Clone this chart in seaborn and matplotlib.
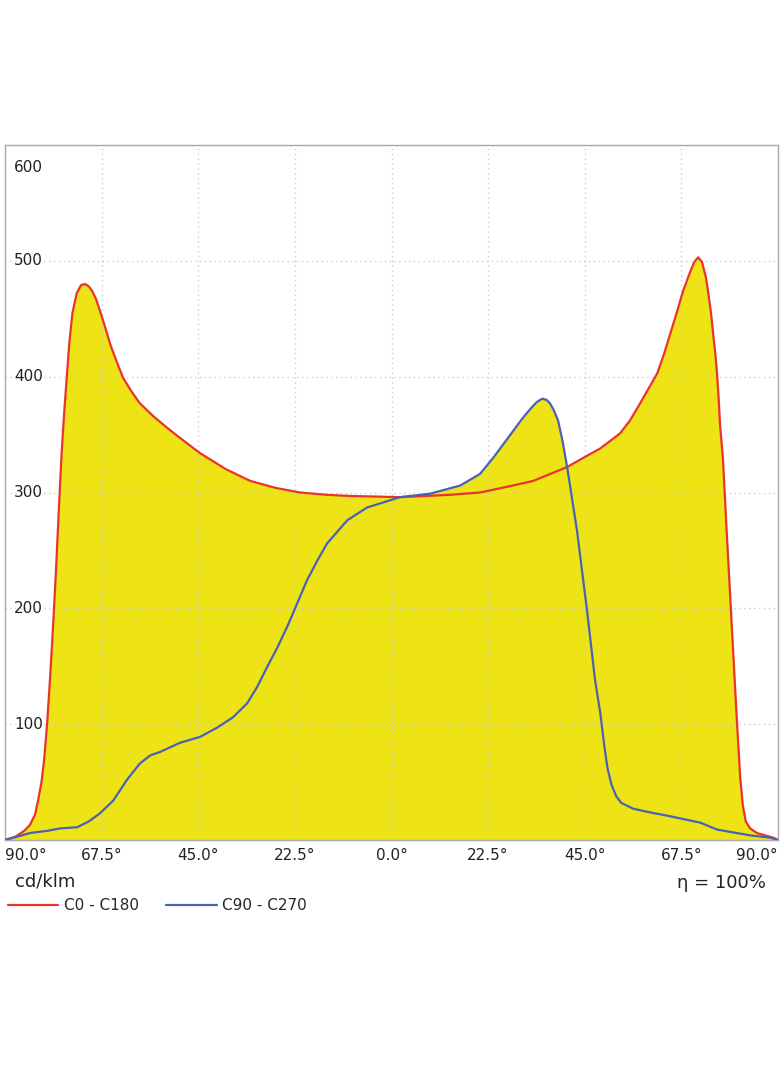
import numpy as np
import pandas as pd
import matplotlib
matplotlib.use('Agg')
import matplotlib.pyplot as plt
import seaborn as sns

# C0 - C180 plane (red), angle in degrees, intensity in cd/klm
c0_angle = [-90.0, -87.5, -85.5, -84.2, -83.0, -82.3, -81.5, -80.9, -80.2, -79.5,
            -78.8, -78.1, -77.4, -76.8, -76.2, -75.6, -75.0, -74.3, -73.3, -72.3,
            -71.4, -70.5, -69.7, -68.8, -67.9, -66.7, -65.5, -64.0, -62.5, -60.5,
            -58.6, -55.5, -52.3, -48.5, -44.6, -38.5, -32.9, -27.0, -21.3, -15.0,
            -9.6, 2.0, 13.6, 20.6, 27.0, 33.0, 40.9, 44.7, 48.6, 53.2,
            55.5, 57.9, 59.9, 61.9, 63.5, 64.9, 66.4, 67.9, 69.5, 70.5,
            71.4, 72.3, 73.2, 73.7, 74.4, 74.9, 75.4, 75.8, 76.2, 76.5,
            77.2, 78.0, 78.8, 79.6, 80.4, 81.2, 81.8, 82.5, 83.5, 85.1,
            88.9, 90.0]
c0_value = [0, 3, 8, 13, 22, 34, 50, 69, 100, 140,
            185, 235, 290, 335, 370, 400, 430, 455, 472, 479,
            480, 478, 474, 467, 457, 443, 428, 413, 399, 387,
            377, 366, 356, 345, 334, 320, 310, 304, 300, 298,
            297, 296, 298, 300, 305, 310, 322, 330, 338, 351,
            362, 377, 390, 403, 420, 437, 455, 474, 490, 499,
            503, 499, 486, 474, 455, 437, 420, 403, 380, 359,
            328, 270, 215, 160, 105, 54, 30, 16, 10, 6,
            2, 0]

# C90 - C270 plane (blue)
c90_angle = [-90.0, -87.0, -84.2, -80.0, -77.2, -73.2, -70.5, -67.9, -64.8, -61.6,
             -58.6, -56.2, -53.9, -49.2, -44.6, -40.6, -36.9, -33.6, -31.3, -29.0,
             -26.6, -24.3, -22.9, -19.7, -17.3, -15.0, -10.3, -5.7, 2.0, 9.0,
             16.0, 20.6, 23.7, 28.3, 30.5, 32.3, 33.8, 35.1, 36.1, 36.9,
             37.8, 38.8, 39.8, 40.9, 43.2, 45.6, 47.4, 48.6, 49.6, 50.3,
             51.2, 52.3, 53.5, 56.3, 60.0, 64.2, 71.9, 75.8, 83.5, 88.2, 90.0]
c90_value = [0, 3, 6, 8, 10, 11, 16, 23, 34, 52,
             66, 73, 76, 84, 89, 97, 106, 118, 132, 149,
             166, 184, 196, 224, 241, 256, 276, 287, 296, 299,
             306, 316, 330, 353, 364, 372, 378, 381, 380, 377,
             371, 362, 345, 322, 267, 196, 138, 110, 80, 62,
             48, 38, 32, 27, 24, 21, 15, 9, 4, 2, 0]

x_ticks = [-90, -67.5, -45, -22.5, 0, 22.5, 45, 67.5, 90]
y_ticks = [100, 200, 300, 400, 500, 600]
series_names = ['C0 - C180', 'C90 - C270']
series_colors = ['#e8342c', '#4a62b4']

df = pd.concat([
    pd.DataFrame({'angle': c0_angle, 'cd': c0_value, 'plane': series_names[0]}),
    pd.DataFrame({'angle': c90_angle, 'cd': c90_value, 'plane': series_names[1]}),
])

sns.set_style('white')
plt.rcParams['font.family'] = ['DejaVu Sans']

fig = plt.figure(figsize=(7.84, 10.66), dpi=100)
ax = fig.add_axes([5 / 784, 226 / 1066, 773 / 784, 695 / 1066])

yellow = '#ede315'
ax.fill_between(c0_angle, 0, c0_value, color=yellow, lw=0, zorder=1)
ax.fill_between(c90_angle, 0, c90_value, color=yellow, lw=0, zorder=1)

sns.lineplot(data=df, x='angle', y='cd', hue='plane', palette=series_colors,
             sort=False, lw=1.6, ax=ax, zorder=3, legend=True)

ax.set_xlim(-90, 90)
ax.set_ylim(0, 600)

# dotted grid
for xv in x_ticks[1:-1]:
    ax.axvline(xv, color='#cccccc', lw=1, ls=(0, (1, 2.5)), zorder=2)
for yv in y_ticks[:-1]:
    ax.axhline(yv, color='#cccccc', lw=1, ls=(0, (1, 2.5)), zorder=2)

for sp in ax.spines.values():
    sp.set_color('#a8a8a8')
    sp.set_linestyle((0, (1, 1)))
    sp.set_linewidth(1)

# y labels drawn inside the axes
ax.set_yticks([])
for yv in y_ticks:
    if yv == y_ticks[-1]:
        ax.text(0.012, 0.968, str(yv), transform=ax.transAxes, ha='left',
                va='center', fontsize=11, color='#222222')
    else:
        ax.text(0.012, yv, str(yv), transform=ax.get_yaxis_transform(),
                ha='left', va='center', fontsize=11, color='#222222')

ax.set_xticks(x_ticks)
labels = ax.set_xticklabels(['%.1f°' % abs(v) for v in x_ticks], fontsize=11,
                            color='#222222')
labels[0].set_ha('left')
labels[-1].set_ha('right')
ax.tick_params(axis='x', length=0, pad=6)
ax.set_xlabel('')
ax.set_ylabel('')

fig.text(15 / 784, 1 - 882 / 1066, 'cd/klm', fontsize=13, ha='left',
         va='center', color='#222222')
fig.text(766 / 784, 1 - 883 / 1066, 'η = 100%', fontsize=13, ha='right',
         va='center', color='#222222')

handles, lbls = ax.get_legend_handles_labels()
ax.legend(handles, lbls, loc='center left', bbox_to_anchor=(8 / 784, 1 - 906 / 1066),
          bbox_transform=fig.transFigure, ncol=2, frameon=False, fontsize=11,
          handlelength=3.3, handletextpad=0.35, columnspacing=1.8,
          borderaxespad=0, borderpad=0)

fig.savefig('out.png', dpi=100, facecolor='white')
